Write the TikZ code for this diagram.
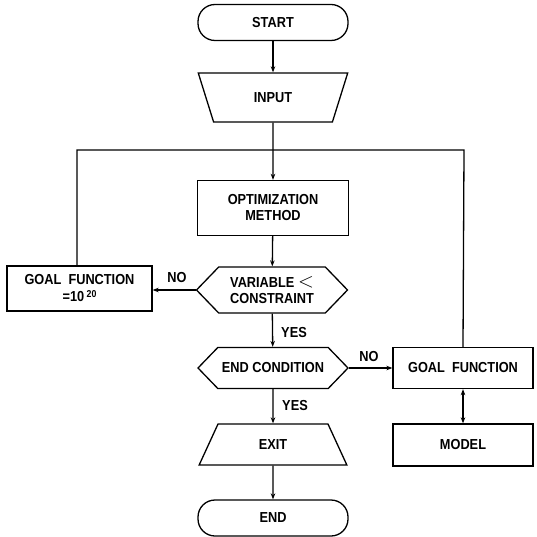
\documentclass[tikz,border=0pt]{standalone}
\usepackage{fontspec}
\setmainfont{Liberation Sans}[FakeStretch=0.88]
\usetikzlibrary{shapes.geometric,shapes.symbols,arrows.meta}
\begin{document}
\begin{tikzpicture}[x=1pt,y=-1pt,
  every node/.style={font=\fontsize{14.5}{16}\selectfont\bfseries, inner sep=0pt, align=center},
  shp/.style={draw, line width=1.3pt},
  term/.style={shp, rectangle, rounded corners=17pt, minimum width=150pt, minimum height=36pt},
  boxn/.style={shp, rectangle, minimum width=#1},
  trap/.style={shp, trapezium, trapezium stretches=true, trapezium left angle=64, trapezium right angle=64},
  hexa/.style={shp, signal, signal to=west and east, signal pointer angle=92},
  conn/.style={line width=1.3pt, -{Stealth[length=6pt,width=4.5pt]}},
  plain/.style={line width=1.3pt},
  lab/.style={font=\fontsize{14.5}{16}\selectfont\bfseries}
]
\useasboundingbox (0,0) rectangle (536,537);
\node[term] (start) at (273,22.5) {START};
\node[trap, shape border rotate=180, minimum width=150pt, minimum height=49pt] (input) at (273,97.5) {INPUT};
\node[boxn=151pt, minimum height=55pt] (opt) at (273,208) {OPTIMIZATION\\METHOD};
\node[hexa, minimum width=151pt, minimum height=46pt] (var) at (272,290) {VARIABLE {\fontsize{20}{16}\selectfont\mdseries$<$}\\CONSTRAINT};
\node[boxn=145pt, minimum height=45pt] (gno) at (79.5,288.5) {GOAL~~FUNCTION\\[1pt]=10\raisebox{0.6ex}{\,\fontsize{10}{10}\selectfont 20}};
\node[hexa, minimum width=150pt, minimum height=41pt] (endc) at (273,368) {END CONDITION};
\node[boxn=140pt, minimum height=41pt] (gf) at (463,368) {GOAL~~FUNCTION};
\node[boxn=140pt, minimum height=42pt] (model) at (463,445) {MODEL};
\node[trap, minimum width=148pt, minimum height=41pt] (exit) at (273,444.5) {EXIT};
\node[term] (end) at (273,518) {END};
\coordinate (tl) at (77,150);
\coordinate (tr) at (464,150);
\draw[conn] (start) -- (input);
\draw[conn] (input) -- (opt);
\draw[conn] (opt) -- (var);
\draw[conn] (var.west) -- (var.west -| gno.east);
\draw[conn] (var) -- (endc);
\draw[conn] (endc.east) -- (gf.west);
\draw[conn] (endc) -- (exit);
\draw[conn] (exit) -- (end);
\draw[line width=1.3pt, {Stealth[length=6pt,width=4.5pt]}-{Stealth[length=6pt,width=4.5pt]}] (gf) -- (model);
\draw[plain] (gno.north -| tl) -- (tl) -- (tr) -- (gf.north);
\node[lab] (no1) at (177,278) {NO};
\node[lab] (yes1) at (294,333) {YES};
\node[lab] (no2) at (369,357) {NO};
\node[lab] (yes2) at (295,406) {YES};
\end{tikzpicture}
\end{document}
